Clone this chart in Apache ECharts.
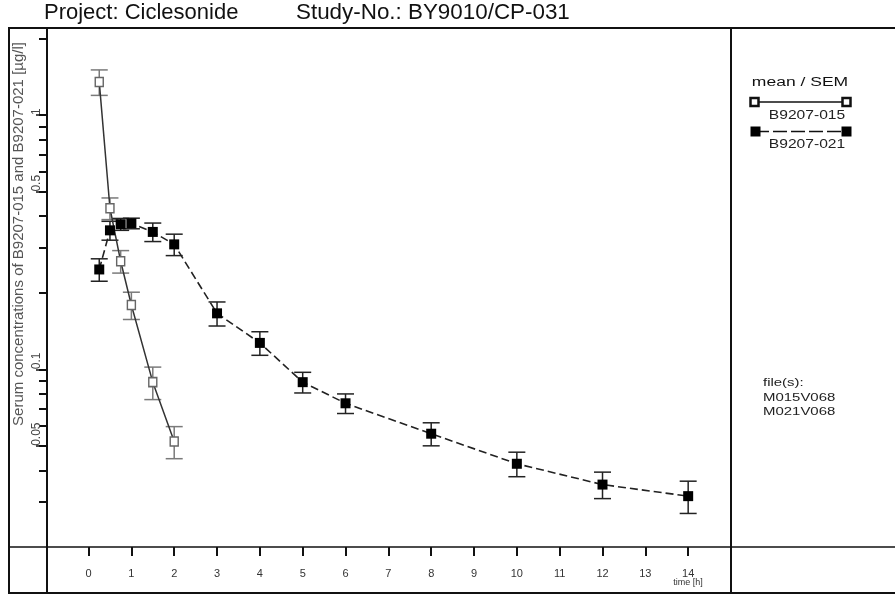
<!DOCTYPE html>
<html>
<head>
<meta charset="utf-8">
<script src="https://cdn.jsdelivr.net/npm/echarts@6/dist/echarts.min.js"></script>
<style>
  html, body { margin: 0; padding: 0; background: #fff; }
  #chart { width: 895px; height: 596px; }
</style>
</head>
<body>
<div id="chart"></div>
<script>
// Mean serum concentrations [µg/l] and SEM over time [h]
const timeB015 = [0.25, 0.5, 0.75, 1, 1.5, 2];
const meanB015 = [1.35, 0.43, 0.266, 0.179, 0.089, 0.052];
const semB015  = [0.155, 0.042, 0.027, 0.022, 0.013, 0.0075];

const timeB021 = [0.25, 0.5, 0.75, 1, 1.5, 2, 3, 4, 5, 6, 8, 10, 12, 14];
const meanB021 = [0.247, 0.352, 0.372, 0.375, 0.347, 0.31, 0.166, 0.127, 0.089, 0.0735, 0.0558, 0.0425, 0.0352, 0.0317];
const semB021  = [0.025, 0.03, 0.02, 0.018, 0.029, 0.03, 0.018, 0.0135, 0.0083, 0.0065, 0.0058, 0.0047, 0.0042, 0.0046];

// Axis ticks
const xTickValues = [0, 1, 2, 3, 4, 5, 6, 7, 8, 9, 10, 11, 12, 13, 14];
const yMinorTicks = [0.03, 0.04, 0.05, 0.06, 0.07, 0.08, 0.09, 0.1, 0.2, 0.3, 0.4, 0.5, 0.6, 0.7, 0.8, 0.9, 1, 2];
const yLabelTicks = [0.05, 0.1, 0.5, 1];

const FONT = '"Liberation Sans", Arial, Helvetica, sans-serif';
const INK = '#111';

function errorBars(times, means, sems, color, width) {
  return {
    type: 'custom',
    silent: true,
    z: 2,
    data: times.map((t, i) => [t, means[i] - sems[i], means[i] + sems[i]]),
    encode: { x: 0, y: [1, 2] },
    renderItem(params, api) {
      const lo = api.coord([api.value(0), api.value(1)]);
      const hi = api.coord([api.value(0), api.value(2)]);
      const hw = 8.5;
      const style = { stroke: color, lineWidth: width };
      return {
        type: 'group',
        children: [
          { type: 'line', shape: { x1: lo[0], y1: lo[1], x2: hi[0], y2: hi[1] }, style },
          { type: 'line', shape: { x1: lo[0] - hw, y1: lo[1], x2: lo[0] + hw, y2: lo[1] }, style },
          { type: 'line', shape: { x1: hi[0] - hw, y1: hi[1], x2: hi[0] + hw, y2: hi[1] }, style }
        ]
      };
    }
  };
}

const chart = echarts.init(document.getElementById('chart'));

const logAxisBase = {
  type: 'log',
  logBase: 10,
  min: 0.02,
  max: 2.2,
  position: 'left',
  offset: 0,
  splitLine: { show: false },
  axisLine: { show: false, onZero: false }
};

chart.setOption({
  animation: false,
  backgroundColor: '#fff',
  grid: { left: 47, right: 164, top: 28, bottom: 49 },
  xAxis: {
    type: 'value',
    min: -0.97,
    max: 15,
    position: 'bottom',
    splitLine: { show: false },
    axisLine: { show: false, onZero: false },
    axisTick: { show: true, length: 9, lineStyle: { color: INK, width: 2 }, customValues: xTickValues },
    axisLabel: { show: true, margin: 21, fontSize: 11, color: '#333', fontFamily: FONT, customValues: xTickValues }
  },
  yAxis: [
    Object.assign({}, logAxisBase, {
      axisTick: { show: true, length: 8, lineStyle: { color: INK, width: 2 }, customValues: yMinorTicks },
      axisLabel: { show: false }
    }),
    Object.assign({}, logAxisBase, {
      axisTick: { show: true, length: 11, lineStyle: { color: INK, width: 1.5 }, customValues: yLabelTicks },
      axisLabel: {
        show: true, rotate: 90, margin: 4, fontSize: 12, color: '#444', fontFamily: FONT,
        align: 'left', verticalAlign: 'bottom',
        customValues: yLabelTicks
      }
    })
  ],
  series: [
    errorBars(timeB015, meanB015, semB015, '#7a7a7a', 1.5),
    errorBars(timeB021, meanB021, semB021, '#222', 1.5),
    {
      name: 'B9207-015',
      type: 'line',
      z: 3,
      data: timeB015.map((t, i) => [t, meanB015[i]]),
      symbol: 'rect',
      symbolSize: [8, 9],
      showAllSymbol: true,
      lineStyle: { color: '#333', width: 1.5 },
      itemStyle: { color: '#fff', borderColor: '#666', borderWidth: 1.5 }
    },
    {
      name: 'B9207-021',
      type: 'line',
      z: 4,
      data: timeB021.map((t, i) => [t, meanB021[i]]),
      symbol: 'rect',
      symbolSize: 10,
      showAllSymbol: true,
      lineStyle: { color: '#222', width: 1.6, type: [8, 4] },
      itemStyle: { color: '#000', borderColor: '#000', borderWidth: 0 }
    }
  ],
  graphic: [
    // frame
    { type: 'rect', shape: { x: 9, y: 28, width: 892, height: 565 }, style: { fill: null, stroke: INK, lineWidth: 2 }, silent: true },
    { type: 'line', shape: { x1: 731, y1: 28, x2: 731, y2: 593 }, style: { stroke: INK, lineWidth: 2 }, silent: true },
    { type: 'line', shape: { x1: 9, y1: 547, x2: 895, y2: 547 }, style: { stroke: INK, lineWidth: 1.5 }, silent: true },
    { type: 'line', shape: { x1: 47, y1: 28, x2: 47, y2: 593 }, style: { stroke: INK, lineWidth: 2 }, silent: true },
    // heading
    { type: 'text', x: 44, y: 13, style: { text: 'Project: Ciclesonide', font: '22px ' + FONT, fill: '#111', textAlign: 'left', textVerticalAlign: 'middle' } },
    { type: 'text', x: 296, y: 13, style: { text: 'Study-No.: BY9010/CP-031', font: '22.4px ' + FONT, fill: '#111', textAlign: 'left', textVerticalAlign: 'middle' } },
    // y axis title
    { type: 'text', x: 19, y: 234, rotation: Math.PI / 2, style: { text: 'Serum concentrations of B9207-015 and B9207-021 [µg/l]', font: '15px ' + FONT, fill: '#555', textAlign: 'center', textVerticalAlign: 'middle' } },
    // x axis unit
    { type: 'text', x: 688, y: 583, style: { text: 'time [h]', font: '9px ' + FONT, fill: '#333', textAlign: 'center', textVerticalAlign: 'middle' } },
    // legend
    { type: 'text', x: 800, y: 83, scaleX: 1.4, style: { text: 'mean / SEM', font: '12.5px ' + FONT, fill: '#111', textAlign: 'center', textVerticalAlign: 'middle' } },
    { type: 'line', shape: { x1: 754, y1: 102, x2: 846, y2: 102 }, style: { stroke: '#111', lineWidth: 1.5 } },
    { type: 'rect', shape: { x: 750.5, y: 98, width: 8, height: 8 }, style: { fill: '#fff', stroke: '#111', lineWidth: 2.5 } },
    { type: 'rect', shape: { x: 842.5, y: 98, width: 8, height: 8 }, style: { fill: '#fff', stroke: '#111', lineWidth: 2.5 } },
    { type: 'text', x: 807, y: 115, scaleX: 1.2, style: { text: 'B9207-015', font: '13px ' + FONT, fill: '#222', textAlign: 'center', textVerticalAlign: 'middle' } },
    { type: 'line', shape: { x1: 755, y1: 131.5, x2: 846, y2: 131.5 }, style: { stroke: '#111', lineWidth: 1.5, lineDash: [14, 4] } },
    { type: 'rect', shape: { x: 750.5, y: 126.5, width: 10, height: 10 }, style: { fill: '#000' } },
    { type: 'rect', shape: { x: 841.5, y: 126.5, width: 10, height: 10 }, style: { fill: '#000' } },
    { type: 'text', x: 807, y: 144, scaleX: 1.2, style: { text: 'B9207-021', font: '13px ' + FONT, fill: '#222', textAlign: 'center', textVerticalAlign: 'middle' } },
    // source files
    { type: 'text', x: 763, y: 383, scaleX: 1.3, style: { text: 'file(s):', font: '11.5px ' + FONT, fill: '#222', textAlign: 'left', textVerticalAlign: 'middle' } },
    { type: 'text', x: 763, y: 398, scaleX: 1.3, style: { text: 'M015V068', font: '11.5px ' + FONT, fill: '#222', textAlign: 'left', textVerticalAlign: 'middle' } },
    { type: 'text', x: 763, y: 412, scaleX: 1.3, style: { text: 'M021V068', font: '11.5px ' + FONT, fill: '#222', textAlign: 'left', textVerticalAlign: 'middle' } }
  ]
});
</script>
</body>
</html>
